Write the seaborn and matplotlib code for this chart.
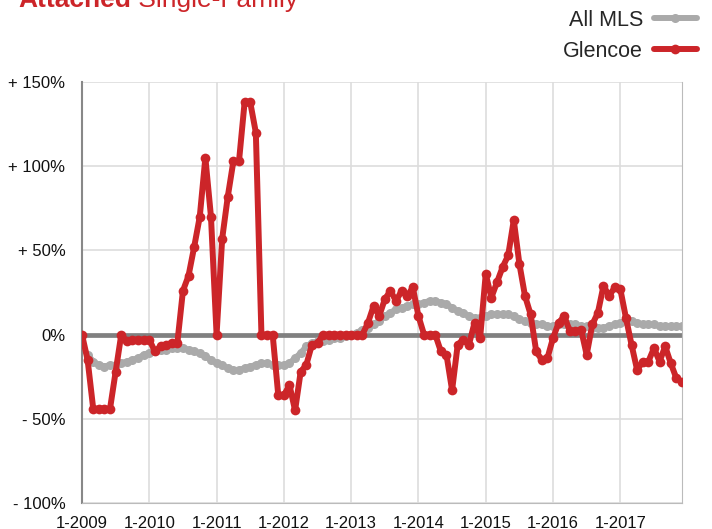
import numpy as np
import pandas as pd
import matplotlib.pyplot as plt
import seaborn as sns

# Monthly % change, 1-2009 .. 12-2017
glencoe = [0, -15, -44, -44, -44, -44, -22, 0, -4, -3, -3, -3,
           -3, -10, -7, -6, -5, -5, 26, 35, 52, 70, 105, 70,
           0, 57, 82, 103, 103, 138, 138, 120, 0, 0, 0, -36,
           -36, -30, -45, -22, -18, -6, -5, 0, 0, 0, 0, 0,
           0, 0, 0, 7, 17, 11, 21, 26, 20, 26, 23, 28,
           11, 0, 0, 0, -10, -12, -33, -6, -3, -6, 7, -2,
           36, 22, 31, 40, 47, 68, 42, 23, 12, -10, -15, -14,
           -2, 7, 11, 2, 2, 3, -12, 6, 13, 29, 23, 28,
           27, 10, -6, -21, -16, -16, -8, -16, -7, -17, -26, -28]
all_mls = [-7, -12, -16, -18, -19, -18, -18, -17, -16, -15, -14, -12,
           -11, -10, -9, -9, -8, -8, -8, -9, -10, -11, -13, -15,
           -17, -18, -20, -21, -21, -20, -19, -18, -17, -17, -18, -18,
           -18, -17, -14, -11, -7, -5, -4, -4, -3, -2, -2, -1,
           0, 1, 3, 4, 6, 8, 11, 13, 15, 16, 17, 18,
           18, 19, 20, 20, 19, 18, 16, 14, 13, 11, 10, 10,
           11, 12, 12, 12, 12, 11, 9, 8, 7, 6, 6, 5,
           5, 6, 6, 6, 6, 5, 5, 4, 4, 4, 5, 6,
           7, 8, 8, 7, 6, 6, 6, 5, 5, 5, 5, 5]
year_labels = ['1-2009', '1-2010', '1-2011', '1-2012', '1-2013',
               '1-2014', '1-2015', '1-2016', '1-2017']
y_ticks = [-100, -50, 0, 50, 100, 150]
y_labels = ['- 100%', '- 50%', '0%', '+ 50%', '+ 100%', '+ 150%']

RED = '#cc2529'
GRAY = '#aaaaaa'

sns.set_style('white')
plt.rcParams['font.family'] = ['Liberation Sans', 'DejaVu Sans']

df = pd.DataFrame({'month': np.arange(len(glencoe)),
                   'Glencoe': glencoe, 'All MLS': all_mls})

fig = plt.figure(figsize=(7.12, 5.29), dpi=100)
ax = fig.add_axes([82 / 712, 1 - 503 / 529, 600 / 712, (503 - 82) / 529])

ax.axhline(0, color='#808080', lw=3.4, zorder=1)
sns.lineplot(data=df, x='month', y='All MLS', ax=ax, color=GRAY, lw=4.3,
             marker='o', markersize=6.5, markeredgewidth=0, label='All MLS', zorder=2)
sns.lineplot(data=df, x='month', y='Glencoe', ax=ax, color=RED, lw=4.3,
             marker='o', markersize=7, markeredgewidth=0, label='Glencoe', zorder=3)

ax.set_xlim(0, len(glencoe) - 1)
ax.set_ylim(-100, 150)
ax.set_xticks(np.arange(0, len(glencoe), 12))
ax.set_xticklabels(year_labels)
ax.set_yticks(y_ticks)
ax.set_yticklabels(y_labels)
ax.set_xlabel('')
ax.set_ylabel('')
ax.grid(True, color='#dddddd', lw=1.2)
ax.set_axisbelow(True)
ax.tick_params(axis='both', length=0, labelsize=12, colors='#111111')
ax.tick_params(axis='x', pad=9)
ax.tick_params(axis='y', pad=12)
ax.spines['top'].set_visible(False)
ax.spines['left'].set_color('#888888')
ax.spines['left'].set_linewidth(1.5)
ax.spines['bottom'].set_color('#bbbbbb')
ax.spines['right'].set_color('#bbbbbb')

leg = ax.legend(loc='upper right', bbox_to_anchor=(697 / 712, 1 - 10 / 529),
                bbox_transform=fig.transFigure, frameon=False, markerfirst=False,
                fontsize=15.5, handlelength=2.0, handletextpad=0.5,
                borderpad=0, borderaxespad=0, labelspacing=0.45)

# title, cut at the top edge like the source
t1 = fig.text(18 / 712, 1 - 7 / 529, 'Attached', color=RED, fontsize=19,
              fontweight='bold', va='baseline')
fig.canvas.draw()
bb = t1.get_window_extent()
fig.text(bb.x1 / fig.bbox.width, 1 - 7 / 529, ' Single-Family', color=RED,
         fontsize=19, va='baseline')

fig.savefig('out.png', dpi=100)
